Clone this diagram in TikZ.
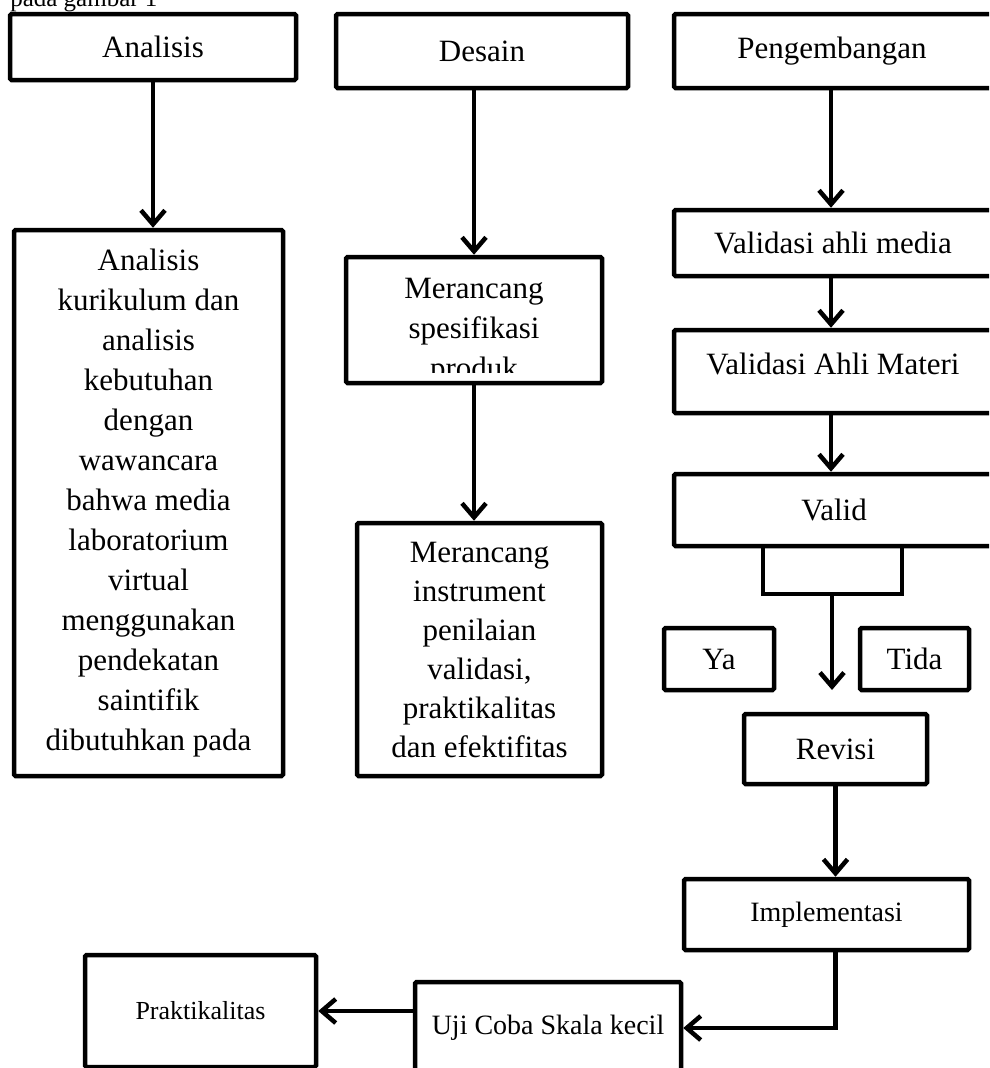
\documentclass[tikz,border=0pt]{standalone}
\usepackage{fontspec}
\setmainfont{Liberation Serif}
\usetikzlibrary{arrows.meta}
\begin{document}
\begin{tikzpicture}[x=1pt, y=-1pt, >={Straight Barb[length=14pt,width=24pt]}, line width=4.5pt, font=\fontsize{31}{40}\selectfont]
      \tikzset{box/.style={draw, rounded corners=1.5pt, inner sep=0pt, align=center},
               smalltext/.style={font=\fontsize{26}{31}\selectfont}}
      \useasboundingbox (0,0) rectangle (989,1068);
      \clip (0,0) rectangle (989,1068);
      \node[anchor=base west, inner sep=0pt, font=\fontsize{25}{30}\selectfont] (caption) at (8,6) {pada gambar 1};
      \node[box, minimum width=286pt, minimum height=66pt] (analisis) at (153,47) {Analisis};
      \node[box, minimum width=292pt, minimum height=74pt] (desain) at (482,51) {Desain};
      \node[box, minimum width=340pt, minimum height=74pt] (pengembangan) at (844,51) {};
      \node (pengembangantext) at (832,51) {Pengembangan};
      \node[box, minimum width=340pt, minimum height=66pt] (media) at (844,243) {};
      \node (mediatext) at (833,243) {Validasi ahli media};
      \node[box, minimum width=340pt, minimum height=83pt] (materi) at (844,371.5) {};
      \node (materitext) at (833,364) {Validasi Ahli Materi};
      \node[box, minimum width=340pt, minimum height=72pt] (valid) at (844,510) {};
      \node (validtext) at (834,510) {Valid};
      \node[box, minimum width=269pt, minimum height=546pt] (kurikulum) at (148.5,503) {Analisis\\kurikulum dan\\analisis\\kebutuhan\\dengan\\wawancara\\bahwa media\\laboratorium\\virtual\\menggunakan\\pendekatan\\saintifik\\dibutuhkan pada};
      \node[box, minimum width=256pt, minimum height=126pt] (spesifikasi) at (474,320) {};
      \begin{scope}
        \clip (346,258) rectangle (602,372);
        \node[inner sep=0pt, align=center] (spesifikasitext) at (474,332) {Merancang\\spesifikasi\\produk};
      \end{scope}
      \node[box, font=\fontsize{31}{39}\selectfont, minimum width=245pt, minimum height=253pt] (instrument) at (479.5,649.5) {Merancang\\instrument\\penilaian\\validasi,\\praktikalitas\\dan efektifitas};
      \node[box, minimum width=110pt, minimum height=62pt] (ya) at (719,659) {Ya};
      \node[box, minimum width=109pt, minimum height=62pt] (tida) at (914.5,659) {Tida};
      \node[box, minimum width=183pt, minimum height=70pt] (revisi) at (835.5,749) {Revisi};
      \node[box, font=\fontsize{28}{33}\selectfont, minimum width=285pt, minimum height=71pt] (implementasi) at (826.5,914.5) {Implementasi};
      \node[box, font=\fontsize{28}{33}\selectfont, minimum width=266pt, minimum height=92pt] (uji) at (548,1028) {Uji Coba Skala kecil};
      \node[box, smalltext, minimum width=231pt, minimum height=112pt] (praktikalitas) at (200.5,1011) {Praktikalitas};
      \coordinate (spine) at (831,0);
      \coordinate (bracketleft) at (763,594);
      \coordinate (bracketright) at (902,594);
      \coordinate (bracketmid) at (832,594);
      \coordinate (choice) at (832,690);
      \draw[->] (analisis.south) -- (analisis.south |- kurikulum.north);
      \draw[->] (spesifikasi.north |- desain.south) -- (spesifikasi.north);
      \draw[->] (spesifikasi.south) -- (spesifikasi.south |- instrument.north);
      \draw[->] (pengembangan.south -| spine) -- (media.north -| spine);
      \draw[->] (media.south -| spine) -- (materi.north -| spine);
      \draw[->] (materi.south -| spine) -- (valid.north -| spine);
      \draw (valid.south -| bracketleft) -- (bracketleft) -- (bracketright) -- (valid.south -| bracketright);
      \draw[->] (bracketmid) -- (choice);
      \draw[->] (revisi.south) -- (revisi.south |- implementasi.north);
      \draw[->] (implementasi.south -| revisi.south) |- (uji.east);
      \draw[->] (uji.west |- praktikalitas.east) -- (praktikalitas.east);
    \end{tikzpicture}
\end{document}
